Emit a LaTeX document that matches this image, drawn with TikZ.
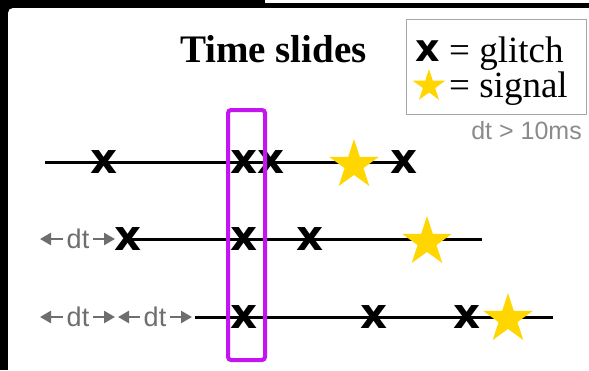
\documentclass[tikz,border=0pt]{standalone}
\usepackage{fontspec}
\setmainfont{Liberation Serif}
\setsansfont{Liberation Sans}
\newfontfamily\markfont{DejaVu Sans}
\usetikzlibrary{arrows.meta, shapes.geometric}
\definecolor{starcol}{RGB}{255,214,0}
\definecolor{boxcol}{RGB}{196,20,240}
\definecolor{dtcol}{RGB}{110,110,110}

\begin{document}
\begin{tikzpicture}[x=1pt,y=-1pt]
\tikzset{glitch/.style={inner sep=0pt,font=\fontsize{42}{42}\selectfont\markfont\bfseries},
signal/.style={star,star points=5,star point ratio=2.618,fill=starcol,inner sep=0pt,minimum size=52pt},
timeline/.style={line width=3pt},
dtlabel/.style={text=dtcol,font=\fontsize{27}{27}\selectfont\sffamily,inner sep=4pt},
dtarrow/.style={dtcol,line width=2.5pt,-{Triangle[length=11pt,width=12pt]}}}
% frame
\useasboundingbox (0,0) rectangle (589,370);
\fill[black] (0,0) rectangle (589,370);
\begin{scope}
\clip (0,0) rectangle (589,370);
\fill[white,rounded corners=5pt] (8,8) rectangle (610,390);
\end{scope}
\fill[white] (265,0) rectangle (589,3);
% title and legend
\node[font=\fontsize{39}{39}\selectfont\bfseries,anchor=base,inner sep=0] (title) at (273.5,62) {Time slides};
\node[draw=gray!70,line width=0.8pt,minimum width=180pt,minimum height=95pt,inner sep=0] (legend) at (496,66.5) {};
\node[glitch,font=\fontsize{38}{38}\selectfont\markfont\bfseries] (lx) at (428,51) {x};
\node[font=\fontsize{37}{37}\selectfont,anchor=base west,inner sep=0] (lglitch) at (449,62) {= glitch};
\node[signal,minimum size=34pt] (lstar) at (429,86) {};
\node[font=\fontsize{37}{37}\selectfont,anchor=base west,inner sep=0] (lsignal) at (449,97) {= signal};
\node[font=\fontsize{25}{25}\selectfont\sffamily,text=dtcol!80,anchor=base east,inner sep=0] (thresh) at (582,139) {dt > 10ms};
% time lines
\coordinate (r1a) at (45,162);
\coordinate (r1b) at (404,162);
\coordinate (r2a) at (128,239);
\coordinate (r2b) at (482,239);
\coordinate (r3a) at (195,317);
\coordinate (r3b) at (553,317);
\draw[timeline] (r1a) -- (r1b);
\draw[timeline] (r2a) -- (r2b);
\draw[timeline] (r3a) -- (r3b);
% glitches
\node[glitch] (g11) at (104,162) {x};
\node[glitch] (g12) at (244,162) {x};
\node[glitch] (g13) at (271,162) {x};
\node[glitch] (g14) at (404,162) {x};
\node[glitch] (g21) at (128,239) {x};
\node[glitch] (g22) at (244,239) {x};
\node[glitch] (g23) at (310,239) {x};
\node[glitch] (g31) at (244,317) {x};
\node[glitch] (g32) at (374,317) {x};
\node[glitch] (g33) at (467,317) {x};
% signals
\node[signal] (s1) at (354,165) {};
\node[signal] (s2) at (427,242) {};
\node[signal] (s3) at (508,319) {};
% shifts
\coordinate (d2l) at (40,239);
\coordinate (d2r) at (115,239);
\coordinate (d3l) at (40,317);
\coordinate (d3m) at (115,317);
\coordinate (d3n) at (118,317);
\coordinate (d3r) at (192,317);
\node[dtlabel] (dt2) at (78,239) {dt};
\node[dtlabel] (dt3a) at (78,317) {dt};
\node[dtlabel] (dt3b) at (155,317) {dt};
\draw[dtarrow] (dt2) -- (d2l);
\draw[dtarrow] (dt2) -- (d2r);
\draw[dtarrow] (dt3a) -- (d3l);
\draw[dtarrow] (dt3a) -- (d3m);
\draw[dtarrow] (dt3b) -- (d3n);
\draw[dtarrow] (dt3b) -- (d3r);
% coincidence window
\node[draw=boxcol,line width=4pt,rounded corners=3pt,minimum width=37pt,minimum height=250pt,inner sep=0] (window) at (246.5,235) {};
\end{tikzpicture}
\end{document}
